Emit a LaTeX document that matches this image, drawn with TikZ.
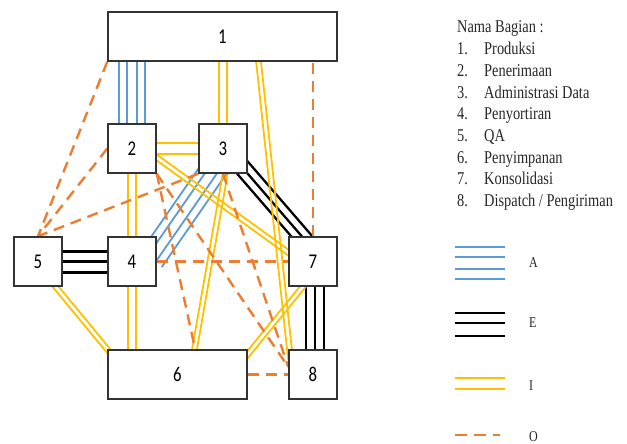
\documentclass[tikz,border=0pt]{standalone}
\usepackage{fontspec}
\usepackage{graphicx}
\setmainfont{Liberation Serif}
\newfontfamily\digitfont{Carlito}
\usetikzlibrary{calc}
\pgfdeclarelayer{bg}
\pgfsetlayers{bg,main}
\definecolor{relA}{HTML}{5B9BD5}
\definecolor{relI}{HTML}{FFC000}
\definecolor{relO}{HTML}{ED7D31}
\tikzset{
  dept/.style={draw=black!80, fill=white, line width=1.5pt, inner sep=0pt,
    minimum width=48pt, minimum height=49pt, font=\digitfont\fontsize{21}{21}\selectfont},
  aline/.style={relA, line width=1.8pt},
  eline/.style={black, line width=2.3pt},
  iline/.style={relI, line width=1.8pt},
  oline/.style={relO, line width=2.4pt, dash pattern=on 11pt off 7pt},
  keytext/.style={anchor=base west, inner sep=0pt, text=black!85,
    font=\fontsize{18}{21.7}\selectfont},
  keyletter/.style={anchor=base west, inner sep=0pt, text=black!85,
    font=\fontsize{15}{15}\selectfont},
}
% parallel strands between two points (offsets in pt), ends run under the boxes
\newcommand{\strands}[4]{%
  \foreach \off in {#4}
    \draw[#1, shorten <=-10pt, shorten >=-10pt]
      ($(#2)!\off pt!90:(#3)$) -- ($(#3)!\off pt!-90:(#2)$);}
\newcommand{\narrow}[1]{\scalebox{0.8}[1]{#1}}

\begin{document}
\begin{tikzpicture}[x=1pt, y=-1pt]
\useasboundingbox (0,0) rectangle (627,444);
%departments
\node[dept, minimum width=229pt] (b1) at (222.5,36.5) {\narrow{1}};
\node[dept] (b2) at (132,148.5) {\narrow{2}};
\node[dept] (b3) at (223,148.5) {\narrow{3}};
\node[dept] (b4) at (132,261.5) {\narrow{4}};
\node[dept] (b5) at (38,261.5) {\narrow{5}};
\node[dept, minimum width=139pt] (b6) at (177.5,374.5) {\narrow{6}};
\node[dept] (b7) at (313,261.5) {\narrow{7}};
\node[dept] (b8) at (313,374.5) {\narrow{8}};

\begin{pgfonlayer}{bg}
    %A - absolutely necessary
    \strands{aline}{b2.north}{b2.north |- b1.south}{-13,-5,5,13}
    \strands{aline}{b3.-116}{b4.22}{-13,-5,5,13}
    %E - especially important
    \strands{eline}{b3.south east}{b7.114}{-8,0,8}
    \strands{eline}{b5}{b4}{10,0,-11}
    \strands{eline}{b7}{b8}{-7,2,11}
    %I - important
    \strands{iline}{b3}{b3 |- b1}{-4,4}
    \strands{iline}{b2}{b3}{-5.5,5.5}
    \strands{iline}{b2}{b4}{-4,4}
    \strands{iline}{b4}{b4 |- b6}{-4,4}
    \strands{iline}{b1.-35.4}{b8.133}{-2.4,2.4}
    \strands{iline}{b2.-20}{b7.160}{-2.4,2.4}
    \strands{iline}{b3.-85}{b6.56}{-2.4,2.4}
    \strands{iline}{b5.-55}{b6.north west}{-2.4,2.4}
    \strands{iline}{b7.-112}{b6.16}{-2.4,2.4}
    %O - ordinary
    \draw[oline] (b1.south west) -- (b5.north);
    \draw[oline] (b2.west) -- (b5.north);
    \draw[oline] (b3.south west) -- (b5.north);
    \draw[oline] (b7.north) -- (b7.north |- b1.south);
    \draw[oline] (b2.south east) -- (b6.55);
    \draw[oline] (b2.south east) -- (b8.163);
    \draw[oline] (b3.south) -- (b8.163);
    \draw[oline] (b4.east) -- (b7.west);
    \draw[oline] (b6.east) -- (b8.west);
\end{pgfonlayer}

%names of the departments
\node[keytext] (title) at (457,33) {\narrow{Nama Bagian :}};
\foreach \name [count=\i] in {Produksi, Penerimaan, Administrasi Data, Penyortiran,
    QA, Penyimpanan, Konsolidasi, Dispatch / Pengiriman} {
    \node[keytext] (num\i) at (457,{33+21.7*\i}) {\narrow{\i.}};
    \node[keytext] (part\i) at (484,{33+21.7*\i}) {\narrow{\name}};
}

%key of the line types
\foreach \y in {247,257,269,279} \draw[aline] (455,\y) -- (505,\y);
\foreach \y in {313,323,336} \draw[eline] (455,\y) -- (505,\y);
\foreach \y in {378,389} \draw[iline, line width=2.2pt] (455,\y) -- (505,\y);
\draw[oline, line width=2.6pt, dash pattern=on 12pt off 7pt] (455,435) -- (500,435);
\node[keyletter] (keyA) at (529,267) {\narrow{A}};
\node[keyletter] (keyE) at (529,327) {\narrow{E}};
\node[keyletter] (keyI) at (529,390) {\narrow{I}};
\node[keyletter] (keyO) at (529,441) {\narrow{O}};
\end{tikzpicture}
\end{document}
